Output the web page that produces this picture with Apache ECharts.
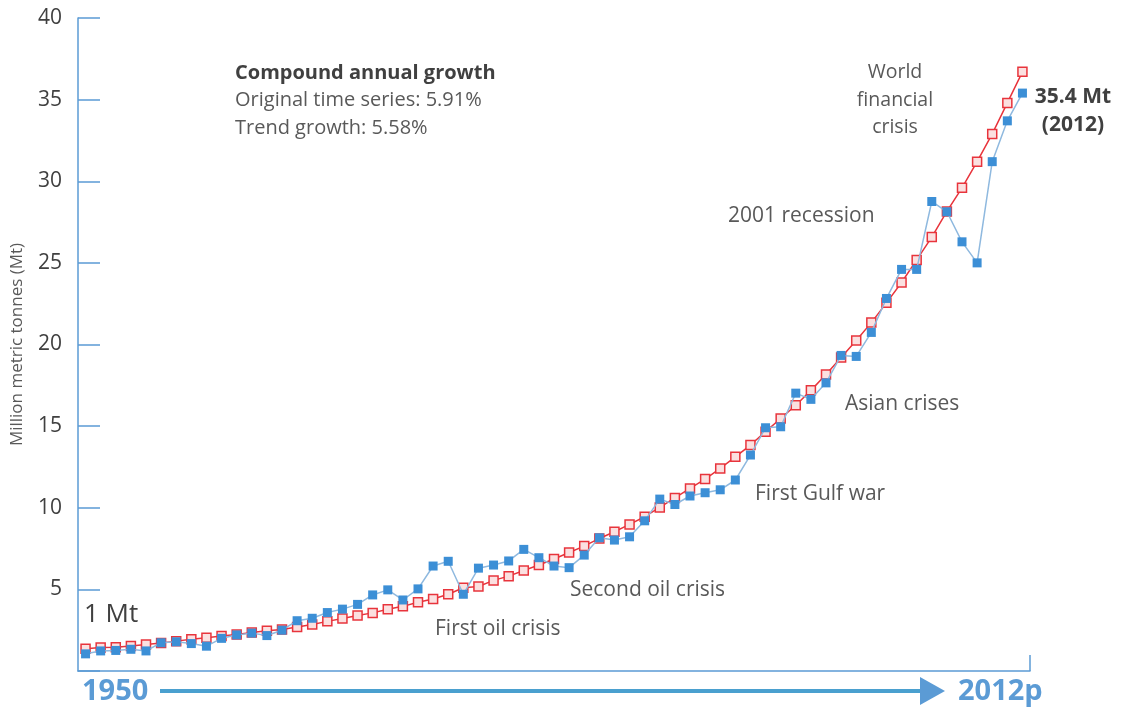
<!DOCTYPE html>
<html><head><meta charset="utf-8">
<script src="https://cdn.jsdelivr.net/npm/echarts@6/dist/echarts.min.js"></script>
<style>html,body{margin:0;padding:0;background:#fff}#c{width:1134px;height:727px}</style>
</head><body><div id="c"></div>
<script>
const years = ['1950','1951','1952','1953','1954','1955','1956','1957','1958','1959',
  '1960','1961','1962','1963','1964','1965','1966','1967','1968','1969',
  '1970','1971','1972','1973','1974','1975','1976','1977','1978','1979',
  '1980','1981','1982','1983','1984','1985','1986','1987','1988','1989',
  '1990','1991','1992','1993','1994','1995','1996','1997','1998','1999',
  '2000','2001','2002','2003','2004','2005','2006','2007','2008','2009',
  '2010','2011','2012'];
const actual = [1.05,1.23,1.26,1.33,1.23,1.73,1.79,1.68,1.52,2.0,
  2.21,2.32,2.17,2.5,3.08,3.23,3.58,3.79,4.08,4.66,
  4.97,4.35,5.03,6.43,6.72,4.7,6.3,6.49,6.74,7.45,
  6.94,6.43,6.33,7.1,8.16,8.02,8.22,9.2,10.53,10.2,
  10.72,10.92,11.1,11.7,13.23,14.9,14.96,17.02,16.64,17.65,
  19.33,19.27,20.74,22.82,24.6,24.6,28.76,28.13,26.29,25.0,
  31.2,33.7,35.4];
const trend = [1.36,1.44,1.46,1.53,1.62,1.72,1.83,1.94,2.04,2.14,
  2.24,2.36,2.47,2.54,2.69,2.85,3.04,3.21,3.4,3.56,
  3.78,3.96,4.21,4.41,4.7,5.1,5.18,5.55,5.81,6.16,
  6.49,6.86,7.26,7.65,8.12,8.53,8.98,9.45,10.02,10.6,
  11.18,11.76,12.41,13.12,13.84,14.66,15.47,16.28,17.19,18.16,
  19.2,20.24,21.34,22.55,23.8,25.18,26.58,28.15,29.6,31.2,
  32.9,34.8,36.7];
const yMin = 0, yMax = 40, yStep = 5;
const startLabel = '1950', endLabel = '2012p';

const chart = echarts.init(document.getElementById('c'));
const F = '"Open Sans", "DejaVu Sans", sans-serif';
const NF = '"Liberation Sans Narrow", "Open Sans", sans-serif';
const gray = '#595959';
const blue = '#5b9bd5';
function txt(x, y, s, opts) {
  return {type:'text', x:x, y:y, style:Object.assign({text:s, fill:gray, font:'21px ' + F, verticalAlign:'middle'}, opts||{})};
}
chart.setOption({
  animation: false,
  backgroundColor: '#fff',
  grid: {left: 78, right: 104, top: 18, bottom: 56, containLabel: false, outerBoundsMode: 'none'},
  xAxis: {
    type: 'category', data: years, boundaryGap: true,
    axisLine: {lineStyle: {color: blue, width: 1.5}},
    axisTick: {show: false}, axisLabel: {show: false}, splitLine: {show: false}
  },
  yAxis: {
    type: 'value', min: yMin, max: yMax, interval: yStep,
    name: 'Million metric tonnes (Mt)', nameLocation: 'middle', nameGap: 52,
    nameTextStyle: {color: gray, fontSize: 17, fontFamily: F},
    axisLine: {show: true, lineStyle: {color: blue, width: 1.5}},
    axisTick: {show: true, inside: true, length: 22, lineStyle: {color: blue, width: 1.5}},
    axisLabel: {color: '#404040', fontSize: 21, fontFamily: F, margin: 16,
      formatter: v => v === 0 ? '' : String(v)},
    splitLine: {show: false}
  },
  series: [
    {
      name: 'Trend', type: 'line', data: trend, symbol: 'rect', symbolSize: 9,
      lineStyle: {color: '#e8343c', width: 1.5},
      itemStyle: {color: '#fbe0e0', borderColor: '#e8343c', borderWidth: 1.5},
      z: 2
    },
    {
      name: 'Original', type: 'line', data: actual, symbol: 'rect', symbolSize: 9,
      lineStyle: {color: '#8fb9df', width: 1.5},
      itemStyle: {color: '#3c8fd6'},
      z: 3
    }
  ],
  graphic: [
    {type:'line', shape:{x1:1030, y1:655, x2:1030, y2:671}, style:{stroke: blue, lineWidth: 1.5}},
    txt(235, 73, 'Compound annual growth', {font:'bold 20px ' + F, fill:'#404040'}),
    txt(235, 100, 'Original time series: 5.91%', {font:'20px ' + F}),
    txt(235, 128, 'Trend growth: 5.58%', {font:'20px ' + F}),
    txt(895, 100, 'World\nfinancial\ncrisis', {font:'19.5px ' + F, align:'center', lineHeight: 27.5}),
    txt(1073, 111, '35.4 Mt\n(2012)', {font:'bold 21px ' + F, fill:'#404040', align:'center', lineHeight: 28}),
    txt(728, 216, '2001 recession'),
    txt(845, 404, 'Asian crises'),
    txt(755, 494, 'First Gulf war'),
    txt(570, 590, 'Second oil crisis'),
    txt(435, 629, 'First oil crisis'),
    txt(84, 615, '1 Mt', {font:'26px ' + F, fill:'#404040'}),
    txt(82, 692, startLabel, {font:'bold 29px ' + NF, fill: blue}),
    txt(958, 692, endLabel, {font:'bold 29px ' + NF, fill: blue}),
    {type:'line', shape:{x1:160, y1:691, x2:925, y2:691}, style:{stroke:'#4aa0cf', lineWidth: 4}},
    {type:'polygon', shape:{points:[[920,677],[945,691],[920,705]]}, style:{fill: blue}}
  ]
});
</script></body></html>
